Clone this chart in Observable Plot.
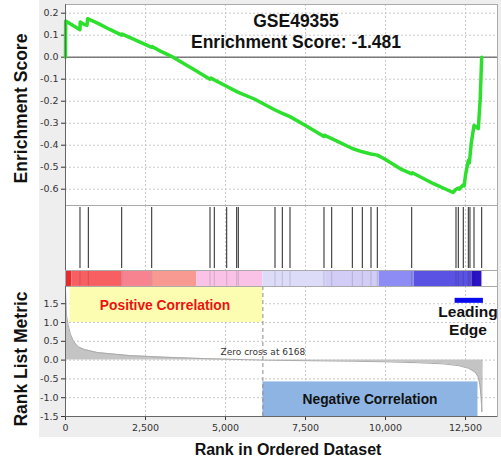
<!DOCTYPE html>
<html><head><meta charset="utf-8">
<script src="https://cdn.jsdelivr.net/npm/d3@7"></script>
<script src="https://cdn.jsdelivr.net/npm/@observablehq/plot@0.6"></script>
<style>
body{margin:0;background:#fff}
#wrap{position:relative;width:501px;height:461px;overflow:hidden;background:#fff}
#bg{position:absolute;left:39px;top:0;width:462px;height:437px;background:#eeeeee}
.panel{position:absolute;left:0}
#overlay{position:absolute;left:0;top:0}
</style></head><body><div id="wrap"><div id="bg"></div></div>
<script>
// ---- data ----
const xTicks = [0, 2500, 5000, 7500, 10000, 12500];
const esTicks = [-0.6, -0.5, -0.4, -0.3, -0.2, -0.1, 0, 0.1, 0.2];
const metricTicks = [-1.5, -1.0, -0.5, 0, 0.5, 1.0, 1.5];

const esRank  = [0, 5, 453, 460, 600, 672, 690, 1000, 1400, 1756, 1770, 2000, 2694, 2710, 3000, 3360, 4000, 4516, 4540, 5000, 5400, 5900, 6547, 6775, 7016, 7500, 8078, 8100, 8319, 8963, 9275, 9547, 9744, 10000, 10500, 10819, 10840, 11500, 12110, 12203, 12275, 12300, 12431, 12460, 12500, 12588, 12620, 12680, 12766, 12900, 12960, 13006];
const esScore = [0, 0.165, 0.125, 0.16, 0.148, 0.145, 0.175, 0.155, 0.125, 0.1, 0.105, 0.09, 0.045, 0.048, 0.025, 0.0, -0.055, -0.1, -0.095, -0.13, -0.16, -0.19, -0.24, -0.255, -0.27, -0.31, -0.36, -0.355, -0.37, -0.415, -0.43, -0.44, -0.445, -0.465, -0.51, -0.53, -0.525, -0.575, -0.615, -0.6, -0.595, -0.6, -0.58, -0.585, -0.535, -0.47, -0.48, -0.39, -0.31, -0.325, -0.19, 0.0];

const hitRanks = [453, 713, 1756, 2694, 4516, 4650, 5038, 5350, 5400, 6547, 6775, 7016, 8078, 8319, 8963, 9275, 9547, 9744, 10819, 12203, 12275, 12431, 12588, 12640, 12766, 13006];

const barStarts = [0, 200, 1756, 2694, 4100, 6168, 8130, 9800, 10900, 12700];
const barEnds   = [200, 1756, 2694, 4100, 6168, 8130, 9800, 10900, 12700, 13010];
const barColors = ["#e42c30", "#f75f62", "#f78290", "#f89a92", "#f9c2e6", "#dcdcf8", "#d2cdf6", "#8c8cf4", "#5a52e2", "#2a12c6"];

const metricRank  = [0, 30, 80, 150, 250, 400, 600, 1000, 1500, 2000, 2500, 3000, 3500, 4000, 4500, 5000, 5600, 6168, 7000, 8000, 9000, 10000, 11000, 11800, 12300, 12600, 12800, 12900, 12950, 12990, 13010, 13015];
const metricValue = [1.9, 1.2, 0.95, 0.7, 0.5, 0.35, 0.28, 0.2, 0.16, 0.12, 0.1, 0.08, 0.065, 0.05, 0.035, 0.025, 0.012, 0, -0.01, -0.02, -0.03, -0.045, -0.07, -0.1, -0.15, -0.22, -0.32, -0.45, -0.65, -1.0, -1.38, 0];

const zeroCross = 6168;
const leadingEdge = [12175, 13060];
const posBox = {x1: 140, x2: 6168, y1: 1.0, y2: 1.96};
const negBox = {x1: 6168, x2: 12890, y1: -1.5, y2: -0.58};

// ---- build ----
const es = esRank.map((r, i) => ({r, v: esScore[i]}));
const metric = metricRank.map((r, i) => ({r, v: metricValue[i]}));
const bars = barStarts.map((s, i) => ({s, e: barEnds[i], c: barColors[i]}));
const xDomain = [0, 13500];
const common = {width: 501, marginLeft: 65, marginRight: 4,
  style: {fontFamily: "DejaVu Sans", fontSize: "9.5px", background: "transparent", overflow: "visible", color: "#333"}};
const grid = {stroke: "#c8c8c8", strokeOpacity: 1, strokeDasharray: "2,2"};
const bold = "Liberation Sans, Arial, sans-serif";

const p1 = Plot.plot({...common, height: 205, marginTop: 4, marginBottom: 0,
  x: {domain: xDomain, axis: null},
  y: {domain: [-0.674, 0.2395], ticks: esTicks, tickFormat: d => d.toFixed(1), tickSize: 4, tickPadding: 3, label: null},
  marks: [
    Plot.frame({fill: "white"}),
    Plot.gridX(xTicks, grid),
    Plot.gridY(esTicks, grid),
    Plot.ruleY([0], {stroke: "#7a7a7a", strokeWidth: 1.5}),
    Plot.line(es, {x: "r", y: "v", stroke: "#2ee02e", strokeWidth: 3.5, strokeLinejoin: "round"}),
    Plot.frame({stroke: "#aaa"}),
    Plot.ruleX([0], {stroke: "#666"})
  ]});

const p2 = Plot.plot({...common, height: 65, marginTop: 0, marginBottom: 0,
  x: {domain: xDomain, axis: null}, y: {axis: null},
  marks: [
    Plot.frame({fill: "white"}),
    Plot.gridX(xTicks, grid),
    Plot.ruleX(hitRanks, {stroke: "#222", strokeWidth: 1, inset: 2}),
    Plot.frame({stroke: "#aaa"}),
    Plot.ruleX([0], {stroke: "#666"})
  ]});

const p3 = Plot.plot({...common, height: 16, marginTop: 0, marginBottom: 0,
  x: {domain: xDomain, axis: null}, y: {axis: null}, color: {type: "identity"},
  marks: [
    Plot.frame({fill: "white"}),
    Plot.rect(bars, {x1: "s", x2: "e", fill: "c"}),
    Plot.ruleX(hitRanks, {stroke: "#000", strokeOpacity: 0.15}),
    Plot.frame({stroke: "#aaa"})
  ]});

const p4 = Plot.plot({...common, height: 175, marginTop: 0, marginBottom: 45,
  x: {domain: xDomain, ticks: xTicks, tickFormat: d3.format(","), tickSize: 4, tickPadding: 4, label: null},
  y: {domain: [-1.5, 1.958], ticks: metricTicks, tickFormat: d => d.toFixed(1), tickSize: 4, tickPadding: 3, label: null},
  marks: [
    Plot.frame({fill: "white"}),
    Plot.gridX(xTicks, grid),
    Plot.gridY(metricTicks, grid),
    Plot.areaY(metric, {x: "r", y: "v", fill: "#c4c4c4"}),
    Plot.line(metric, {x: "r", y: "v", stroke: "#aaa", strokeWidth: 1}),
    Plot.rect([posBox], {x1: "x1", x2: "x2", y1: "y1", y2: "y2", fill: "#fdfdb2"}),
    Plot.rect([negBox], {x1: "x1", x2: "x2", y1: "y1", y2: "y2", fill: "#8db4e2"}),
    Plot.ruleX([zeroCross], {stroke: "#8a8a8a", strokeDasharray: "4,3"}),
    Plot.text(["Zero cross at 6168"], {x: zeroCross, y: 0.2, fontSize: 9, fill: "#333", fontFamily: "DejaVu Sans"}),
    Plot.text(["Positive Correlation"], {x: 3110, y: 1.463, fontSize: 13.8, fontWeight: "bold", fill: "#ee1111", fontFamily: bold}),
    Plot.text(["Negative Correlation"], {x: 9516, y: -1.045, fontSize: 13.8, fontWeight: "bold", fill: "#111", fontFamily: bold}),
    Plot.ruleY([1.59], {x1: leadingEdge[0], x2: leadingEdge[1], stroke: "#0a0aee", strokeWidth: 5}),
    Plot.text(["Leading"], {x: 12578, y: 1.29, fontSize: 15.5, fontWeight: "bold", fill: "#111", fontFamily: bold}),
    Plot.text(["Edge"], {x: 12578, y: 0.805, fontSize: 15.5, fontWeight: "bold", fill: "#111", fontFamily: bold}),
    Plot.frame({stroke: "#aaa"}),
    Plot.ruleX([0], {stroke: "#666"}),
    Plot.ruleY([-1.5], {stroke: "#666"})
  ]});

const wrap = document.getElementById("wrap");
[[p1, 0], [p2, 205], [p3, 270], [p4, 286]].forEach(([p, t]) => {
  p.classList.add("panel"); p.style.top = t + "px"; p.style.position = "absolute"; wrap.appendChild(p);
});

// titles
const ns = "http://www.w3.org/2000/svg";
const ov = document.createElementNS(ns, "svg");
ov.setAttribute("id", "overlay"); ov.setAttribute("width", 501); ov.setAttribute("height", 461);
ov.style.position = "absolute"; ov.style.left = "0"; ov.style.top = "0";
function addText(str, x, y, size, rot) {
  const t = document.createElementNS(ns, "text");
  t.textContent = str;
  t.setAttribute("text-anchor", "middle");
  t.setAttribute("font-family", bold);
  t.setAttribute("font-weight", "bold");
  t.setAttribute("font-size", size);
  t.setAttribute("fill", "#111");
  t.setAttribute("transform", `translate(${x},${y})` + (rot ? ` rotate(${rot})` : ""));
  ov.appendChild(t);
}
addText("GSE49355", 296, 27.3, 17.5, 0);
addText("Enrichment Score: -1.481", 296, 48.3, 17.5, 0);
addText("Enrichment Score", 26.7, 108.5, 17.5, -90);
addText("Rank List Metric", 26.7, 359, 17.5, -90);
addText("Rank in Ordered Dataset", 288, 455, 16, 0);
wrap.appendChild(ov);
</script></body></html>
